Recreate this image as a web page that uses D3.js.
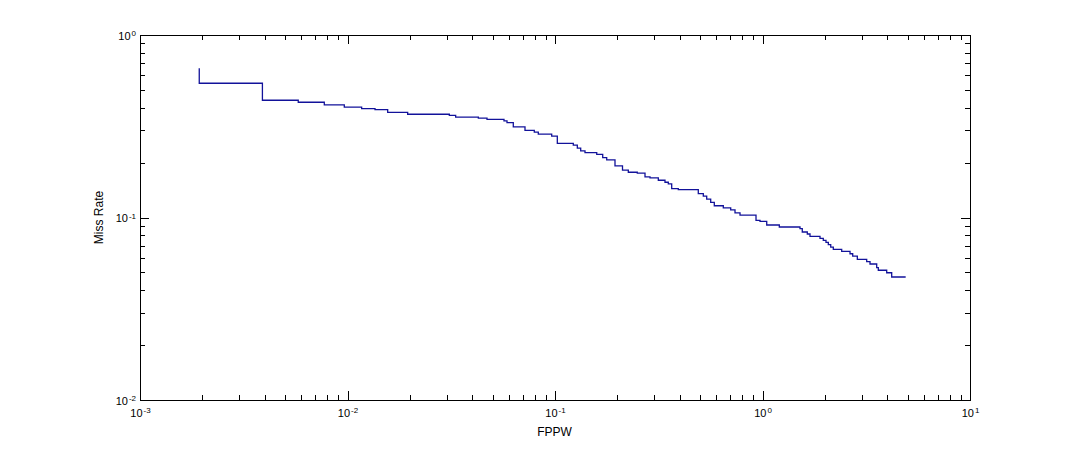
<!DOCTYPE html>
<html>
<head>
<meta charset="utf-8">
<script src="https://cdn.jsdelivr.net/npm/d3@7"></script>
<style>
  html, body { margin: 0; padding: 0; background: #fff; }
  svg { display: block; }
  text { font-family: "Liberation Sans", Arial, Helvetica, sans-serif; fill: #000; }
</style>
</head>
<body>
<svg id="chart" width="1072" height="449"></svg>
<script>
// ---- data ----
const fppw = [0.00193, 0.00193, 0.00389, 0.00579, 0.00773, 0.00965, 0.0117, 0.01357, 0.01562, 0.0195,
  0.03095, 0.03321, 0.04271, 0.04702, 0.05678, 0.05871, 0.06295, 0.07168, 0.07947, 0.08308,
  0.09641, 0.1026, 0.1225, 0.1281, 0.133, 0.1395, 0.1589, 0.1698, 0.1775, 0.1946,
  0.2115, 0.2256, 0.2492, 0.2715, 0.287, 0.3147, 0.3389, 0.3516, 0.3651, 0.3928,
  0.4904, 0.5185, 0.5384, 0.5628, 0.5857, 0.6473, 0.7027, 0.7371, 0.7792, 0.9305,
  0.9728, 1.048, 1.205, 1.516, 1.555, 1.644, 1.694, 1.893, 1.963, 2.023,
  2.076, 2.132, 2.194, 2.408, 2.641, 2.721, 2.864, 3.178, 3.297, 3.551,
  3.615, 3.968, 4.194, 4.898];
const missRate = [0.657, 0.544, 0.439, 0.428, 0.414, 0.403, 0.395, 0.390, 0.377, 0.368,
  0.363, 0.355, 0.350, 0.345, 0.338, 0.331, 0.314, 0.300, 0.294, 0.286,
  0.279, 0.255, 0.249, 0.240, 0.232, 0.227, 0.222, 0.213, 0.207, 0.192,
  0.182, 0.177, 0.175, 0.167, 0.165, 0.160, 0.156, 0.153, 0.144, 0.142,
  0.135, 0.131, 0.126, 0.121, 0.116, 0.113, 0.110, 0.106, 0.103, 0.0965,
  0.0953, 0.0910, 0.0887, 0.0868, 0.0833, 0.0812, 0.0789, 0.0769, 0.0750, 0.0731,
  0.0710, 0.0689, 0.0669, 0.0653, 0.0633, 0.0615, 0.0590, 0.0573, 0.0556, 0.0531,
  0.0514, 0.0498, 0.0472, 0.0472];

const xMajorExp = [-3, -2, -1, 0, 1];
const yMajorExp = [-2, -1, 0];
const xLabel = "FPPW";
const yLabel = "Miss Rate";

// ---- layout ----
const svg = d3.select("#chart");
const L = 140, R = 970, T = 35, B = 400;

const x = d3.scaleLog().domain([1e-3, 1e1]).range([L, R]);
const y = d3.scaleLog().domain([1e-2, 1e0]).range([B, T]);

function minorTicks(expArr) {
  const out = [];
  for (let i = 0; i < expArr.length - 1; i++) {
    for (let m = 2; m <= 9; m++) out.push(m * Math.pow(10, expArr[i]));
  }
  return out;
}
const xMajor = xMajorExp.map(e => Math.pow(10, e));
const yMajor = yMajorExp.map(e => Math.pow(10, e));
const xMinor = minorTicks(xMajorExp);
const yMinor = minorTicks(yMajorExp);

const MAJ = 9, MIN = 5;

function styleAxis(g) {
  g.selectAll("path.domain").attr("stroke", "#000").attr("stroke-width", 1).attr("shape-rendering", "crispEdges");
  g.selectAll(".tick line").attr("stroke", "#000").attr("stroke-width", 1).attr("shape-rendering", "crispEdges");
}

// minor ticks (no labels)
svg.append("g").attr("transform", `translate(0,${B})`)
  .call(d3.axisBottom(x).tickValues(xMinor).tickSize(-MIN).tickSizeOuter(0).tickFormat(""))
  .call(styleAxis);
svg.append("g").attr("transform", `translate(0,${T})`)
  .call(d3.axisTop(x).tickValues(xMinor).tickSize(-MIN).tickSizeOuter(0).tickFormat(""))
  .call(styleAxis);
svg.append("g").attr("transform", `translate(${L},0)`)
  .call(d3.axisLeft(y).tickValues(yMinor).tickSize(-MIN).tickSizeOuter(0).tickFormat(""))
  .call(styleAxis);
svg.append("g").attr("transform", `translate(${R},0)`)
  .call(d3.axisRight(y).tickValues(yMinor).tickSize(-MIN).tickSizeOuter(0).tickFormat(""))
  .call(styleAxis);

// major ticks
const xb = svg.append("g").attr("transform", `translate(0,${B})`)
  .call(d3.axisBottom(x).tickValues(xMajor).tickSize(-MAJ).tickSizeOuter(0).tickPadding(11))
  .call(styleAxis);
svg.append("g").attr("transform", `translate(0,${T})`)
  .call(d3.axisTop(x).tickValues(xMajor).tickSize(-MAJ).tickSizeOuter(0).tickFormat(""))
  .call(styleAxis);
const yl = svg.append("g").attr("transform", `translate(${L},0)`)
  .call(d3.axisLeft(y).tickValues(yMajor).tickSize(-MAJ).tickSizeOuter(0).tickPadding(5))
  .call(styleAxis);
svg.append("g").attr("transform", `translate(${R},0)`)
  .call(d3.axisRight(y).tickValues(yMajor).tickSize(-MAJ).tickSizeOuter(0).tickFormat(""))
  .call(styleAxis);

// power-of-ten labels with superscripts
function powLabel(sel, exps) {
  sel.selectAll(".tick text").each(function(d, i) {
    const t = d3.select(this);
    const e = Math.round(Math.log10(d));
    t.text(null).attr("font-size", 11).attr("font-family", "Liberation Sans, Arial, sans-serif").attr("fill", "#000");
    t.append("tspan").text("10");
    t.append("tspan").attr("dy", "-0.45em").attr("dx", "1").attr("font-size", 8).text(String(e));
  });
}
powLabel(xb);
powLabel(yl);
xb.selectAll(".tick text").attr("dy", "0.55em");
yl.selectAll(".tick text").attr("dy", "0.4em").attr("x", -4);

// axis titles
svg.append("text").attr("x", (L + R) / 2 - 0.5).attr("y", 436)
  .attr("text-anchor", "middle").attr("font-size", 12).text(xLabel);
svg.append("text").attr("transform", `translate(103,${(T + B) / 2}) rotate(-90)`)
  .attr("text-anchor", "middle").attr("font-size", 12).text(yLabel);

// curve
const line = d3.line()
  .x((d, i) => x(fppw[i]))
  .y((d, i) => y(missRate[i]))
  .curve(d3.curveStepAfter);

svg.append("path")
  .datum(fppw)
  .attr("d", line)
  .attr("fill", "none")
  .attr("stroke", "#12129a")
  .attr("stroke-width", 1.3);
</script>
</body>
</html>
